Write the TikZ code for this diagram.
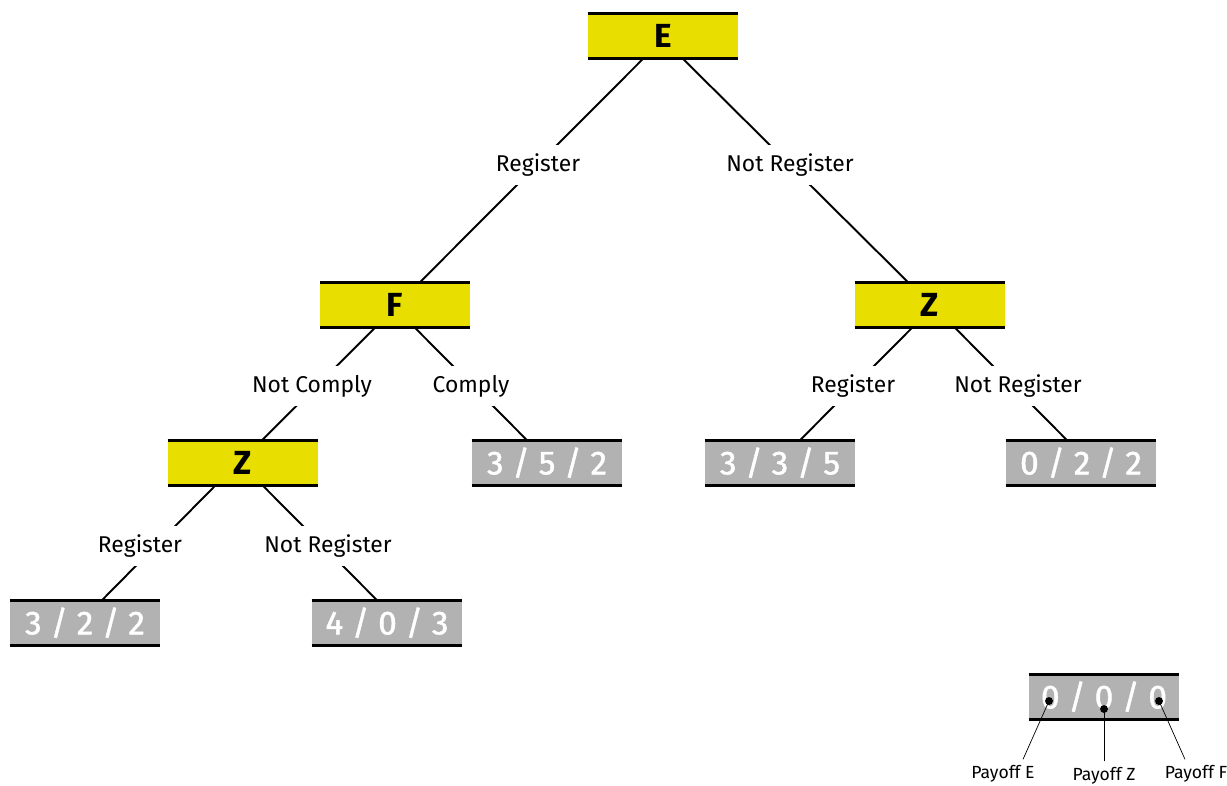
\documentclass[tikz,border=0pt]{standalone}
\usepackage{fontspec}
\setmainfont{Fira Sans}
\newfontfamily\payofffont{Fira Sans}[FakeBold=1.4]
\usetikzlibrary{calc,positioning}
\definecolor{gameyellow}{RGB}{232,222,0}
\definecolor{payoffgray}{RGB}{178,178,178}
\tikzset{
    player/.style = {rectangle, fill=gameyellow, minimum width=3cm, minimum height=0.9cm,
                     inner sep=0pt, text height=13pt, text depth=0pt,
                     font=\fontsize{19}{22}\selectfont\bfseries},
    payoff/.style = {rectangle, fill=payoffgray, minimum width=3cm, minimum height=0.9cm,
                     inner sep=0pt, text height=13pt, text depth=0pt, text=white,
                     font=\payofffont\fontsize{19}{22}\selectfont},
    move/.style = {fill=white, inner xsep=2pt, inner ysep=5pt, font=\fontsize{13}{16}\selectfont},
    branch/.style = {line width=1.1pt},
    rim/.style = {line width=1.7pt},
    note/.style = {font=\fontsize{10}{12}\selectfont},
    dot/.style = {circle, fill, inner sep=0pt, minimum size=4.5pt}
}

\begin{document}
\begin{tikzpicture}[x=0.02cm, y=-0.02cm]
  \useasboundingbox (0,0) rectangle (1227,785);

  % decision nodes
  \node (E) at (663,36) [player] {E};
  \node (F) at (395,305) [player] {F};
  \node (ZR) at (930,305) [player] {Z};
  \node (ZL) at (243,463) [player] {Z};

  % outcomes
  \node (P352) at (547,463) [payoff] {3 / 5 / 2};
  \node (P335) at (780,463) [payoff] {3 / 3 / 5};
  \node (P022) at (1081,463) [payoff] {0 / 2 / 2};
  \node (P322) at (85,623) [payoff] {3 / 2 / 2};
  \node (P403) at (387,623) [payoff] {4 / 0 / 3};
  \node (Key) at (1104,697) [payoff] {0 / 0 / 0};

  \foreach \n in {E,F,ZR,ZL,P352,P335,P022,P322,P403,Key}
    \draw[rim] (\n.north west) -- (\n.north east) (\n.south west) -- (\n.south east);

  % branches
  \draw[branch] ($(E.south)+(-20,0)$) -- ($(F.north)+(25,0)$);
  \draw[branch] ($(E.south)+(20,0)$) -- ($(ZR.north)+(-22,0)$);
  \draw[branch] ($(F.south)+(-20,0)$) -- ($(ZL.north)+(19,0)$);
  \draw[branch] ($(F.south)+(20,0)$) -- ($(P352.north)+(-20,0)$);
  \draw[branch] ($(ZR.south)+(-18,0)$) -- ($(P335.north)+(20,0)$);
  \draw[branch] ($(ZR.south)+(25,0)$) -- ($(P022.north)+(-14,0)$);
  \draw[branch] ($(ZL.south)+(-28,0)$) -- ($(P322.north)+(17,0)$);
  \draw[branch] ($(ZL.south)+(20,0)$) -- ($(P403.north)+(-10,0)$);

  % move labels
  \node (mE1) at (538,165) [move] {Register};
  \node (mE2) at (790,165) [move] {Not Register};
  \node (mF1) at (312,386) [move] {Not Comply};
  \node (mF2) at (471,386) [move] {Comply};
  \node (mZR1) at (853,386) [move] {Register};
  \node (mZR2) at (1018,386) [move] {Not Register};
  \node (mZL1) at (140,546) [move] {Register};
  \node (mZL2) at (328,546) [move] {Not Register};

  % key
  \coordinate (dE) at ($(Key)+(-55,4)$);
  \coordinate (dZ) at ($(Key)+(0,12)$);
  \coordinate (dF) at ($(Key)+(55,4)$);
  \node (kE) at (1003,774) [note] {Payoff E};
  \node (kZ) at (1104,776) [note] {Payoff Z};
  \node (kF) at (1196,774) [note] {Payoff F};
  \draw ($(kE.north)+(20,0)$) -- (dE) node[dot] {};
  \draw (kZ.north) -- (dZ) node[dot] {};
  \draw ($(kF.north)+(-11,0)$) -- (dF) node[dot] {};
\end{tikzpicture}
\end{document}
